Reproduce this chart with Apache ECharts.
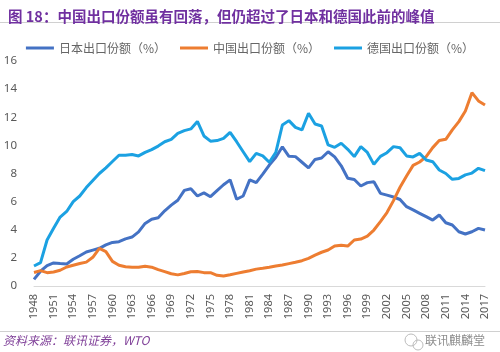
<!DOCTYPE html>
<html>
<head>
<meta charset="utf-8">
<script src="https://cdn.jsdelivr.net/npm/echarts@6/dist/echarts.min.js"></script>
<style>
  html, body { margin: 0; padding: 0; background: #fff; }
  #chart { width: 500px; height: 352px; }
</style>
</head>
<body>
<div id="chart"></div>
<script>
const years = [
  '1948', '1949', '1950', '1951', '1952', '1953', '1954', '1955', '1956', '1957',
  '1958', '1959', '1960', '1961', '1962', '1963', '1964', '1965', '1966', '1967',
  '1968', '1969', '1970', '1971', '1972', '1973', '1974', '1975', '1976', '1977',
  '1978', '1979', '1980', '1981', '1982', '1983', '1984', '1985', '1986', '1987',
  '1988', '1989', '1990', '1991', '1992', '1993', '1994', '1995', '1996', '1997',
  '1998', '1999', '2000', '2001', '2002', '2003', '2004', '2005', '2006', '2007',
  '2008', '2009', '2010', '2011', '2012', '2013', '2014', '2015', '2016', '2017'
];

// 日本出口份额（%）
const japan = [
  0.47, 1.05, 1.45, 1.64, 1.6, 1.57, 1.9, 2.15, 2.42, 2.55,
  2.68, 2.92, 3.1, 3.15, 3.35, 3.48, 3.85, 4.45, 4.75, 4.85,
  5.35, 5.75, 6.1, 6.8, 6.92, 6.4, 6.62, 6.35, 6.78, 7.2,
  7.55, 6.17, 6.4, 7.55, 7.35, 7.95, 8.6, 9.15, 9.9, 9.22,
  9.2, 8.8, 8.4, 9.0, 9.1, 9.55, 9.18, 8.55, 7.66, 7.57,
  7.11, 7.35, 7.42, 6.59, 6.46, 6.33, 6.15, 5.64, 5.41, 5.17,
  4.93, 4.69, 5.05, 4.5, 4.34, 3.86, 3.7, 3.86, 4.1, 3.98
];

// 中国出口份额（%）
const china = [
  0.96, 1.09, 0.95, 1.0, 1.12, 1.35, 1.48, 1.6, 1.7, 2.04,
  2.68, 2.45, 1.75, 1.48, 1.37, 1.33, 1.33, 1.41, 1.34, 1.16,
  1.02, 0.87, 0.79, 0.89, 1.01, 1.03, 0.95, 0.95, 0.76, 0.71,
  0.8, 0.9, 1.0, 1.09, 1.2, 1.26, 1.33, 1.42, 1.49, 1.59,
  1.69, 1.8, 1.97, 2.2, 2.4, 2.56, 2.84, 2.89, 2.84, 3.27,
  3.34, 3.55, 3.98, 4.58, 5.22, 6.07, 7.02, 7.82, 8.58, 8.82,
  9.2, 9.84, 10.34, 10.43, 11.1, 11.69, 12.45, 13.75, 13.16, 12.87
];

// 德国出口份额（%）
const germany = [
  1.42, 1.66, 3.27, 4.1, 4.9, 5.3, 6.0, 6.4, 7.0, 7.5,
  8.0, 8.4, 8.85, 9.3, 9.3, 9.35, 9.25, 9.5, 9.7, 9.95,
  10.26, 10.43, 10.86, 11.05, 11.17, 11.7, 10.67, 10.3, 10.34, 10.5,
  10.93, 10.26, 9.55, 8.84, 9.43, 9.25, 8.8, 9.5, 11.45, 11.76,
  11.28, 11.1, 12.28, 11.52, 11.38, 10.03, 9.86, 10.15, 9.72, 9.2,
  9.91, 9.5, 8.65, 9.22, 9.48, 9.91, 9.83, 9.25, 9.18, 9.43,
  8.96, 8.84, 8.25, 8.0, 7.59, 7.65, 7.9, 8.03, 8.37, 8.2
];

const chart = echarts.init(document.getElementById('chart'));

function line(name, data, color) {
  return {
    name: name,
    type: 'line',
    data: data,
    symbol: 'none',
    lineStyle: {width: 3, color: color},
    itemStyle: {color: color}
  };
}

chart.setOption({
  animation: false,
  title: {
    text: '图 18：中国出口份额虽有回落，但仍超过了日本和德国此前的峰值',
    left: 3,
    top: 4,
    textStyle: {
      color: '#7030A0',
      fontSize: 14.5,
      fontWeight: 'bold',
      fontFamily: 'Noto Sans CJK SC'
    }
  },
  legend: {
    top: 37,
    left: 'center',
    itemGap: 14,
    itemWidth: 28,
    itemHeight: 3,
    icon: 'rect',
    textStyle: {color: '#666666', fontSize: 12, fontFamily: 'Noto Sans CJK SC'},
    data: ['日本出口份额（%）', '中国出口份额（%）', '德国出口份额（%）']
  },
  grid: {left: 34, right: 15, top: 61, bottom: 66},
  xAxis: {
    type: 'category',
    data: years,
    boundaryGap: false,
    axisLine: {lineStyle: {color: '#D9D9D9'}},
    axisTick: {show: false},
    axisLabel: {
      interval: 2,
      rotate: 90,
      color: '#595959',
      fontSize: 11,
      fontFamily: 'Noto Sans',
      margin: 8
    }
  },
  yAxis: {
    type: 'value',
    min: 0,
    max: 16,
    interval: 2,
    axisLine: {show: false},
    axisTick: {show: false},
    splitLine: {show: false},
    axisLabel: {color: '#595959', fontSize: 11.5, fontFamily: 'Noto Sans', margin: 17}
  },
  series: [
    line('日本出口份额（%）', japan, '#4472C4'),
    line('中国出口份额（%）', china, '#ED7D31'),
    line('德国出口份额（%）', germany, '#1BA1E2')
  ],
  graphic: [
    {type: 'rect', shape: {x: 0, y: 22, width: 500, height: 1}, style: {fill: '#D0D0D0'}},
    {type: 'rect', shape: {x: 0, y: 331, width: 500, height: 1}, style: {fill: '#D0D0D0'}},
    {
      type: 'text', left: 3, top: 334,
      style: {
        text: '资料来源：联讯证券，WTO',
        fill: '#7F3F98',
        font: 'italic 12px "Noto Sans CJK SC"'
      }
    },
    {
      type: 'text', left: 425, top: 334,
      style: {
        text: '联讯麒麟堂',
        fill: '#8C8C8C',
        font: '12px "Noto Sans CJK SC"'
      }
    },
    {type: 'circle', shape: {cx: 411, cy: 340, r: 6}, style: {fill: 'none', stroke: '#BBBBBB', lineWidth: 1}},
    {type: 'circle', shape: {cx: 418, cy: 345, r: 5}, style: {fill: 'none', stroke: '#BBBBBB', lineWidth: 1}}
  ]
});
</script>
</body>
</html>
